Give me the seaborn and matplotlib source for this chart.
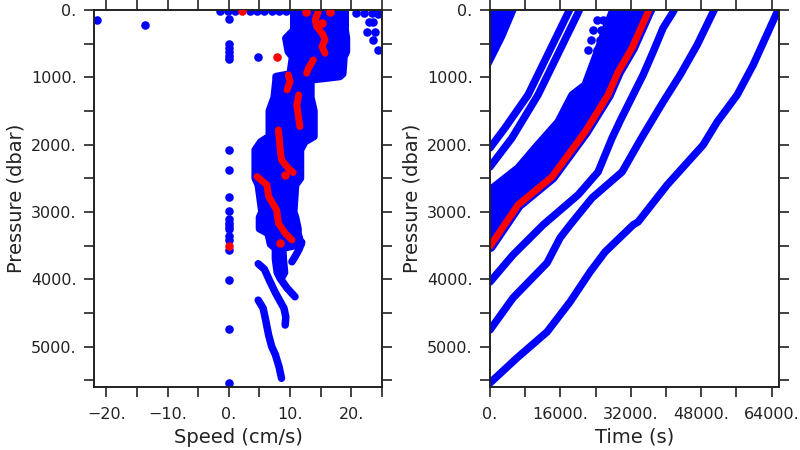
import numpy as np
import pandas as pd
import seaborn as sns
import matplotlib
matplotlib.use("Agg")
import matplotlib.pyplot as plt
from matplotlib.ticker import MultipleLocator, FuncFormatter

sns.set_style("ticks")
plt.rcParams['font.family'] = ['DejaVu Sans']

BLUE = '#0000ff'
RED = '#ff0000'

# ---------------- speed panel data ----------------
# outer envelope of the dense cloud of profiles (dot centres)
cloud_p = [0, 300, 420, 620, 700, 950, 990, 1040, 1300, 1500, 1880, 1960, 2080,
           2500, 2600, 3000, 3080, 3250, 3320, 3480, 3540, 3700, 3900, 3980]
cloud_lo = [10.6, 10.6, 9.3, 9.7, 10.4, 10.0, 7.7, 7.7, 7.4, 6.6, 6.6, 5.2, 4.3,
            4.3, 4.8, 5.4, 5.0, 5.0, 6.4, 6.8, 7.6, 7.6, 7.9, 8.4]
cloud_hi = [19.0, 19.0, 19.2, 19.2, 18.8, 18.6, 18.1, 13.4, 13.4, 13.9, 13.9, 12.4, 11.7,
            11.7, 10.9, 10.6, 10.9, 11.3, 11.3, 11.8, 8.8, 8.9, 9.1, 8.6]

# separate deep strands
strand_a_p = [3770, 3850, 4030, 4200, 4430, 4560, 4680]
strand_a_v = [4.8, 5.8, 6.7, 7.6, 9.0, 9.3, 9.2]
strand_b_p = [4310, 4430, 4600, 4830, 5000, 5120, 5300, 5470]
strand_b_v = [4.8, 5.6, 6.0, 6.5, 7.0, 7.6, 8.2, 8.6]
strand_c_p = [3900, 3990, 4130, 4260]
strand_c_v = [8.0, 8.4, 9.5, 10.8]
strand_d_p = [3450, 3550, 3650, 3740]
strand_d_v = [11.9, 11.5, 10.9, 10.3]

# scattered blue points
dots_v = [-21.5, -13.6, 4.8,
          -1.4, -0.2, 1.0, 3.4, 4.6, 5.8, 7.0, 8.2, 9.4,
          20.8, 22.0, 23.3, 24.3, 22.8, 23.6, 22.5, 23.9, 23.6, 24.4]
dots_p = [149, 223, 693,
          10, 10, 10, 10, 10, 10, 10, 10, 10,
          40, 40, 40, 60, 173, 173, 322, 322, 446, 594]
zero_p = [140, 500, 560, 620, 680, 730, 2080, 2380, 2780, 2980, 3110, 3160,
          3210, 3260, 3360, 3420, 3560, 4010, 4740, 5540]

# highlighted (red) profile
red_segments = [
    ([25, 149, 248, 371, 446, 545, 644], [14.6, 14.1, 14.35, 15.4, 15.7, 15.2, 15.7]),
    ([743, 866, 940], [13.8, 13.0, 12.7]),
    ([965, 1064, 1188], [9.7, 10.0, 9.5]),
    ([1262, 1410, 1609, 1733], [11.4, 11.1, 11.4, 11.6]),
    ([1782, 2079, 2228, 2351, 2416], [8.1, 8.4, 8.6, 9.7, 10.5]),
    ([2475, 2599, 2772, 2970, 3168, 3317, 3416], [4.6, 6.2, 6.5, 7.8, 8.1, 9.2, 10.3]),
]
red_dots_v = [2.2, 12.6, 16.5, 7.8, 9.2, 8.4, 0.0, 15.2]
red_dots_p = [15, 25, 25, 693, 2450, 3465, 3500, 198]

# ---------------- time panel data ----------------
line1_t = [0, 6140, 12970, 18200, 22750, 26160, 32530, 33670, 40270, 48460, 51650, 56200, 59830, 65290, 65600]
line1_p = [5540, 5168, 4782, 4336, 3891, 3594, 3193, 3148, 2599, 2005, 1663, 1262, 817, 30, -30]
line2_t = [0, 5230, 12970, 15930, 18200, 23200, 30030, 34580, 39360, 43230, 47100, 50740, 51200]
line2_p = [4752, 4277, 3757, 3386, 3193, 2792, 2406, 1886, 1366, 965, 520, 30, -30]
line3_t = [0, 5230, 12060, 20020, 24570, 27760, 29580, 34810, 37080, 39360, 41630, 42100]
line3_p = [4040, 3638, 3193, 2747, 2406, 1901, 1648, 965, 624, 267, 30, -30]
strand1_t = [0, 3410, 8650, 17750, 18300]
strand1_p = [2050, 1752, 1262, 45, -30]
strand2_t = [0, 5000, 10920, 20020, 20500]
strand2_p = [2331, 1901, 1262, 45, -30]
band_t = [0, 6370, 10240, 15470, 18660, 21610, 23890, 26160, 27760, 28100]
band_p = [2673, 2346, 2049, 1663, 1262, 1114, 713, 297, 30, -30]
red_t = [0, 6370, 14100, 21610, 26840, 29120, 32300, 35950, 36400]
red_p = [3510, 2896, 2480, 1812, 1262, 921, 564, 30, -30]
corner_t = [0, 6300, 3410, 1140, 0]
corner_p = [-30, -30, 416, 713, 860]
top_dots_t = [24340, 23430, 22980, 22300, 25710, 25250, 25020, 24340]
top_dots_p = [149, 297, 446, 594, 149, 297, 446, 594]

LW = 5.4      # line width (pt) ~ marker diameter
S = 38        # marker area


def fmt(v, pos):
    return f"{v:.0f}.".replace('-', '\u2212')


def style_axis(ax, xmajor, xminor):
    ax.set_ylim(5600, 0)
    ax.yaxis.set_major_locator(MultipleLocator(1000))
    ax.yaxis.set_minor_locator(MultipleLocator(500))
    ax.xaxis.set_major_locator(MultipleLocator(xmajor))
    ax.xaxis.set_minor_locator(MultipleLocator(xminor))
    ax.xaxis.set_major_formatter(FuncFormatter(fmt))
    ax.yaxis.set_major_formatter(FuncFormatter(fmt))
    ax.tick_params(which='both', direction='out', length=7.5, width=1.2,
                   top=True, right=True, labelsize=11.5, colors='#222222')
    ax.tick_params(axis='x', which='major', pad=7)
    ax.tick_params(axis='y', which='major', pad=5)
    for sp in ax.spines.values():
        sp.set_linewidth(1.4)
        sp.set_color('#222222')
    ax.set_ylabel('Pressure (dbar)', fontsize=14, labelpad=4, color='#222222')


def thick(ax, x, y, color=BLUE, lw=LW):
    sns.lineplot(x=x, y=y, ax=ax, sort=False, estimator=None, color=color,
                 linewidth=lw, solid_capstyle='round', solid_joinstyle='round')


fig = plt.figure(figsize=(8, 4.5), dpi=100)
ax1 = fig.add_axes([0.1175, 0.14, 0.36, 0.838])
ax2 = fig.add_axes([0.6125, 0.14, 0.36125, 0.838])

# ---- left: speed ----
ax1.fill_betweenx(cloud_p, cloud_lo, cloud_hi, color=BLUE, lw=0)
thick(ax1, cloud_lo, cloud_p)
thick(ax1, cloud_hi, cloud_p)
for sv, sp in [(strand_a_v, strand_a_p), (strand_b_v, strand_b_p),
               (strand_c_v, strand_c_p), (strand_d_v, strand_d_p)]:
    thick(ax1, sv, sp)
sns.scatterplot(x=dots_v, y=dots_p, ax=ax1, color=BLUE, s=S, linewidth=0)
sns.scatterplot(x=[0.0] * len(zero_p), y=zero_p, ax=ax1, color=BLUE, s=S, linewidth=0)
for rp, rv in red_segments:
    thick(ax1, rv, rp, color=RED, lw=5.0)
sns.scatterplot(x=red_dots_v, y=red_dots_p, ax=ax1, color=RED, s=S, linewidth=0, zorder=3)
ax1.set_xlim(-22, 25)
style_axis(ax1, 10, 5)
ax1.set_xlabel('Speed (cm/s)', fontsize=14, labelpad=4, color='#222222')

# ---- right: time ----
ax2.fill(corner_t, corner_p, color=BLUE, lw=0)
band_poly_t = band_t + red_t[::-1]
band_poly_p = band_p + red_p[::-1]
ax2.fill(band_poly_t, band_poly_p, color=BLUE, lw=0)
for lt, lp in [(line1_t, line1_p), (line2_t, line2_p), (line3_t, line3_p),
               (strand1_t, strand1_p), (strand2_t, strand2_p), (band_t, band_p)]:
    thick(ax2, lt, lp)
sns.scatterplot(x=top_dots_t, y=top_dots_p, ax=ax2, color=BLUE, s=S, linewidth=0)
thick(ax2, red_t, red_p, color=BLUE, lw=8.5)
thick(ax2, red_t, red_p, color=RED, lw=5.0)
ax2.set_xlim(0, 65700)
style_axis(ax2, 16000, 8000)
ax2.set_xlabel('Time (s)', fontsize=14, labelpad=4, color='#222222')

fig.savefig('out.png', dpi=100)
